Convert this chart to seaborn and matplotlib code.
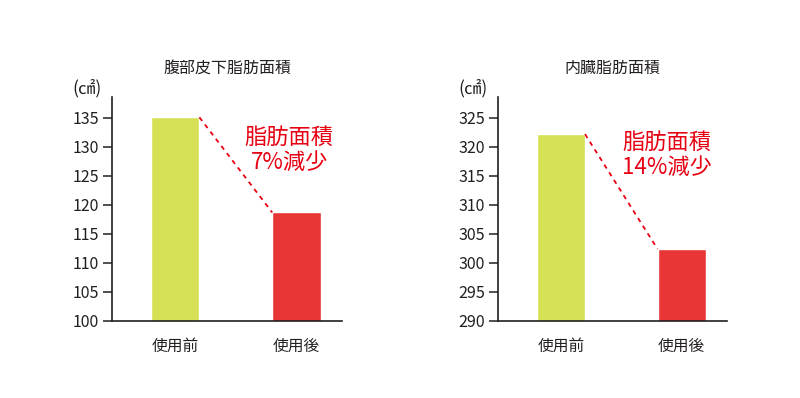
import seaborn as sns
import matplotlib.pyplot as plt
import pandas as pd

# values
groups = ['使用前', '使用後']
subcut = [135.1, 118.7]
visceral = [322.2, 302.4]
titles = ['腹部皮下脂肪面積', '内臓脂肪面積']
notes = ['脂肪面積\n7%減少', '脂肪面積\n14%減少']
ylims = [(100, 138.6), (290, 328.6)]
yticks = [list(range(100, 136, 5)), list(range(290, 326, 5))]
colors = ['#d6e055', '#e83636']
note_pos = [(0.77, 0.763), (0.738, 0.741)]

sns.set_theme(style='white')
plt.rcParams['font.family'] = ['Noto Sans CJK JP', 'DejaVu Sans']

fig = plt.figure(figsize=(8, 3.98), dpi=100)
ax1 = fig.add_axes([0.14, 0.1935, 0.2875, 0.5628])
ax2 = fig.add_axes([0.6225, 0.1935, 0.2863, 0.5628])

for ax, vals, title, note, yl, yt, npos in zip([ax1, ax2], [subcut, visceral], titles, notes,
                                               ylims, yticks, note_pos):
    df = pd.DataFrame({'group': groups, 'value': vals})
    sns.barplot(data=df, x='group', y='value', hue='group', palette=colors,
                width=0.397, legend=False, ax=ax, saturation=1)
    ax.set_ylim(*yl)
    ax.set_xlim(-0.52, 1.375)
    ax.set_yticks(yt)
    ax.set_xlabel('')
    ax.set_ylabel('')
    sns.despine(ax=ax)
    for s in ['left', 'bottom']:
        ax.spines[s].set_color('#231f20')
        ax.spines[s].set_linewidth(1.2)
    ax.tick_params(axis='y', which='major', left=True, length=6.5, width=1.1,
                   color='#231f20', labelsize=11.5, labelcolor='#231f20', pad=3)
    ax.tick_params(axis='x', bottom=False, labelsize=11.3, labelcolor='#231f20', pad=6)
    # dashed connector between the bar tops
    ax.plot([0.2, 0.8], vals, linestyle=(0, (2.5, 2.5)), color='#e60012', lw=1.3)
    ax.text(0.5, 1.129, title, transform=ax.transAxes, fontsize=11.5,
            color='#231f20', ha='center', va='center')
    ax.text(-0.11, 1.04, '(㎠)', transform=ax.transAxes, fontsize=12.5,
            color='#231f20', ha='center', va='center')
    ax.text(npos[0], npos[1], note, transform=ax.transAxes, fontsize=16,
            color='#e60012', ha='center', va='center', linespacing=1.15)

fig.savefig('out.png', dpi=100)
